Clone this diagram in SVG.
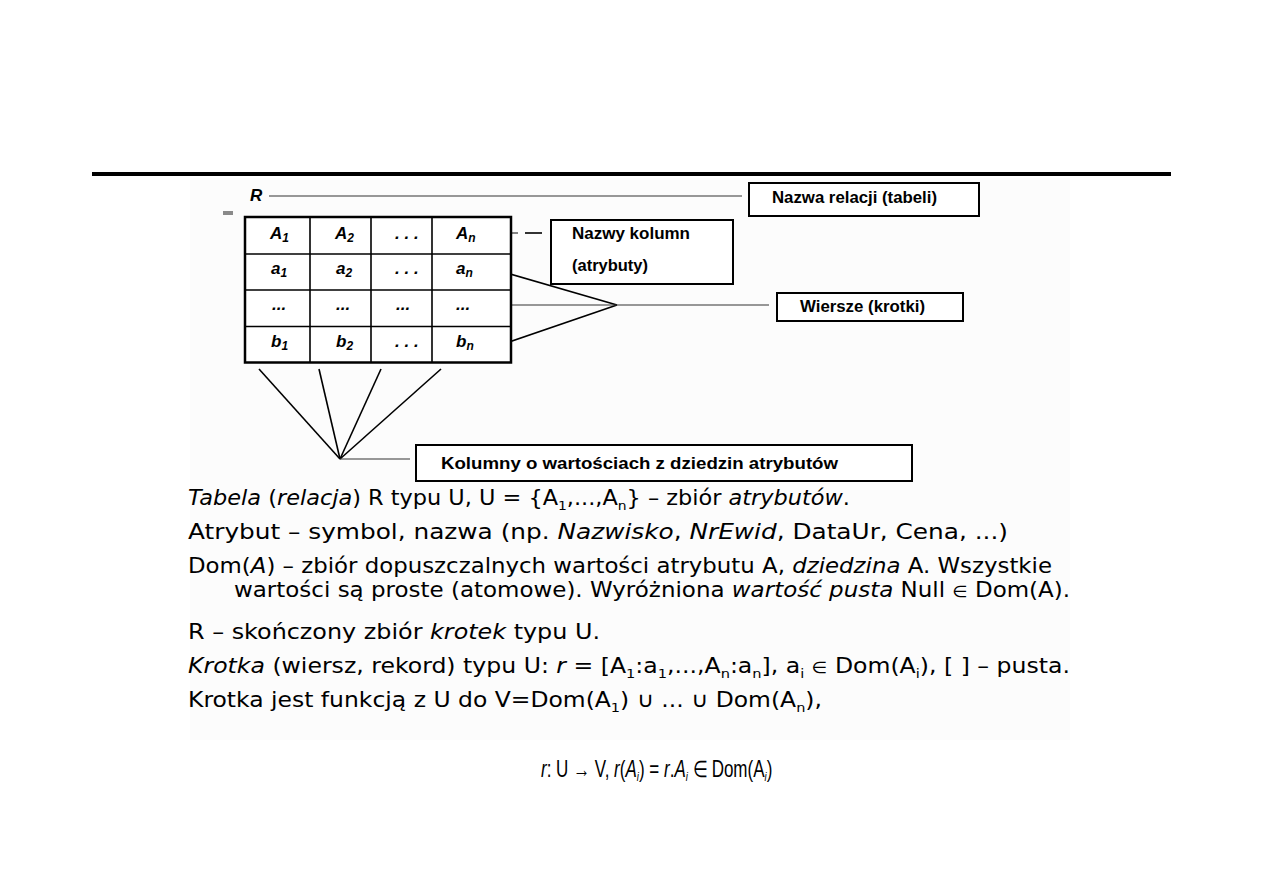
<svg xmlns="http://www.w3.org/2000/svg" width="1263" height="893" viewBox="0 0 1263 893">
<style>
.cell{font-family:"Liberation Sans",Arial,sans-serif;font-weight:bold;font-style:italic;font-size:17px;fill:#000}
.sub{font-size:12px}
.lbl{font-family:"Liberation Sans",Arial,sans-serif;font-weight:bold;font-size:16px;fill:#000}
.box{fill:#fff;stroke:#000;stroke-width:2}
.ln{stroke:#000;stroke-width:1.6;fill:none}
.thin{stroke:#333;stroke-width:1.2;fill:none}
.txt{font-family:"DejaVu Sans","Noto Sans",sans-serif;font-size:21px;fill:#000}
.it{font-style:italic}
.s{font-size:13px}
.el{font-size:16px}
.frm{font-family:"Liberation Sans",Arial,sans-serif;font-size:23px;fill:#000}
</style>
<rect width="1263" height="893" fill="#fff"/>
<rect x="190" y="178" width="880" height="562" fill="#fcfcfc"/>
<rect x="540" y="740" width="236" height="48" fill="#fff"/>
<rect x="92" y="172" width="1079" height="4" fill="#000"/>
<rect x="223" y="211" width="10" height="4" fill="#8a8a8a"/>

<g id="connectors">
<line class="thin" x1="269" y1="196" x2="742" y2="196"/>
<line class="thin" x1="490" y1="233" x2="518" y2="233"/>
<line class="ln" x1="525" y1="233" x2="542" y2="233" stroke-width="2"/>
<line class="ln" x1="503" y1="272" x2="617" y2="305"/>
<line class="ln" x1="503" y1="344" x2="617" y2="305"/>
<line class="thin" x1="492" y1="305" x2="769" y2="305"/>
<line class="ln" x1="259" y1="369" x2="340" y2="459"/>
<line class="ln" x1="319" y1="369" x2="340" y2="459"/>
<line class="ln" x1="381" y1="369" x2="340" y2="459"/>
<line class="ln" x1="441" y1="369" x2="340" y2="459"/>
<line class="thin" x1="340" y1="459" x2="410" y2="459"/>
</g>

<g id="R-label"><text class="cell" x="250" y="201" font-size="17">R</text></g>

<g id="table">
<rect x="245" y="217" width="266" height="145.5" fill="#fff" stroke="#000" stroke-width="2.5"/>
<line class="ln" stroke-width="2.5" x1="245" y1="254" x2="511" y2="254"/>
<line class="ln" stroke-width="2.5" x1="245" y1="290" x2="511" y2="290"/>
<line class="ln" stroke-width="2.5" x1="245" y1="326.5" x2="511" y2="326.5"/>
<line class="ln" stroke-width="2.5" x1="310" y1="217" x2="310" y2="362.5"/>
<line class="ln" stroke-width="2.5" x1="371" y1="217" x2="371" y2="362.5"/>
<line class="ln" stroke-width="2.5" x1="432" y1="217" x2="432" y2="362.5"/>
<text class="cell" x="270" y="239">A<tspan class="sub" dy="3">1</tspan></text>
<text class="cell" x="335" y="239">A<tspan class="sub" dy="3">2</tspan></text>
<text class="cell" x="395" y="239">. . .</text>
<text class="cell" x="456" y="239">A<tspan class="sub" dy="3">n</tspan></text>
<text class="cell" x="271" y="274">a<tspan class="sub" dy="3">1</tspan></text>
<text class="cell" x="336" y="274">a<tspan class="sub" dy="3">2</tspan></text>
<text class="cell" x="395" y="274">. . .</text>
<text class="cell" x="456" y="274">a<tspan class="sub" dy="3">n</tspan></text>
<text class="cell" x="272" y="310" font-style="normal" font-size="13">...</text>
<text class="cell" x="336" y="310" font-style="normal" font-size="13">...</text>
<text class="cell" x="396" y="310" font-style="normal" font-size="13">...</text>
<text class="cell" x="456" y="310" font-style="normal" font-size="13">...</text>
<text class="cell" x="271" y="347">b<tspan class="sub" dy="3">1</tspan></text>
<text class="cell" x="336" y="347">b<tspan class="sub" dy="3">2</tspan></text>
<text class="cell" x="395" y="347">. . .</text>
<text class="cell" x="456" y="347">b<tspan class="sub" dy="3">n</tspan></text>
</g>

<g id="nazwa-relacji">
<rect class="box" x="749" y="183" width="230" height="33"/>
<text class="lbl" x="772" y="203" textLength="165" lengthAdjust="spacingAndGlyphs">Nazwa relacji (tabeli)</text>
</g>
<g id="nazwy-kolumn">
<rect class="box" x="551" y="220" width="182" height="64"/>
<text class="lbl" x="572" y="239" textLength="118" lengthAdjust="spacingAndGlyphs">Nazwy kolumn</text>
<text class="lbl" x="572" y="271" textLength="76" lengthAdjust="spacingAndGlyphs">(atrybuty)</text>
</g>
<g id="wiersze">
<rect class="box" x="777" y="293" width="186" height="28"/>
<text class="lbl" x="800" y="312" textLength="125" lengthAdjust="spacingAndGlyphs">Wiersze (krotki)</text>
</g>
<g id="kolumny">
<rect class="box" x="416" y="445" width="496" height="36"/>
<text class="lbl" x="441" y="469" textLength="397" lengthAdjust="spacingAndGlyphs">Kolumny  o  wartościach z dziedzin atrybutów</text>
</g>

<g id="description">
<text class="txt" x="188" y="505" textLength="662" lengthAdjust="spacingAndGlyphs"><tspan class="it">Tabela</tspan> (<tspan class="it">relacja</tspan>) R typu U, U = {A<tspan class="s" dy="5">1</tspan><tspan dy="-5">,...,A</tspan><tspan class="s" dy="5">n</tspan><tspan dy="-5">} – zbiór </tspan><tspan class="it">atrybutów</tspan>.</text>
<text class="txt" x="188" y="539" textLength="820" lengthAdjust="spacingAndGlyphs">Atrybut – symbol, nazwa (np. <tspan class="it">Nazwisko</tspan>, <tspan class="it">NrEwid</tspan>, DataUr, Cena, ...)</text>
<text class="txt" x="188" y="573" textLength="864" lengthAdjust="spacingAndGlyphs">Dom(<tspan class="it">A</tspan>) – zbiór dopuszczalnych wartości atrybutu A, <tspan class="it">dziedzina</tspan> A. Wszystkie</text>
<text class="txt" x="234" y="597" textLength="836" lengthAdjust="spacingAndGlyphs">wartości są proste (atomowe). Wyróżniona <tspan class="it">wartość pusta</tspan> Null <tspan class="el">∈</tspan> Dom(A).</text>
<text class="txt" x="188" y="639" textLength="412" lengthAdjust="spacingAndGlyphs">R – skończony zbiór <tspan class="it">krotek</tspan> typu U.</text>
<text class="txt" x="188" y="673" textLength="882" lengthAdjust="spacingAndGlyphs"><tspan class="it">Krotka</tspan> (wiersz, rekord) typu U: <tspan class="it">r</tspan> = [A<tspan class="s" dy="5">1</tspan><tspan dy="-5">:a</tspan><tspan class="s" dy="5">1</tspan><tspan dy="-5">,...,A</tspan><tspan class="s" dy="5">n</tspan><tspan dy="-5">:a</tspan><tspan class="s" dy="5">n</tspan><tspan dy="-5">], a</tspan><tspan class="s" dy="5">i</tspan><tspan dy="-5"> </tspan><tspan class="el">∈</tspan> Dom(A<tspan class="s" dy="5">i</tspan><tspan dy="-5">), [ ] – pusta.</tspan></text>
<text class="txt" x="188" y="707" textLength="634" lengthAdjust="spacingAndGlyphs">Krotka jest funkcją z U do V=Dom(A<tspan class="s" dy="5">1</tspan><tspan dy="-5">) ∪ ... ∪ Dom(A</tspan><tspan class="s" dy="5">n</tspan><tspan dy="-5">),</tspan></text>
<text class="frm" transform="translate(541,777) scale(0.74,1)" x="0" y="0"><tspan class="it">r</tspan>: U → V, <tspan class="it">r</tspan>(<tspan class="it">A</tspan><tspan class="it s" dy="4">i</tspan><tspan dy="-4">) = </tspan><tspan class="it">r</tspan>.<tspan class="it">A</tspan><tspan class="it s" dy="4">i</tspan><tspan dy="-4"> ∈ Dom(A</tspan><tspan class="it s" dy="4">i</tspan><tspan dy="-4">)</tspan></text>
</g>
</svg>
